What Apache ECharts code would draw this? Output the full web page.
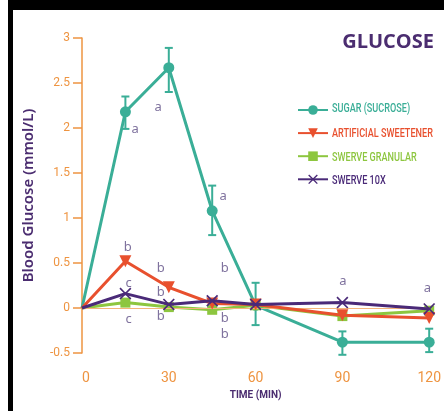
<!DOCTYPE html>
<html>
<head>
<meta charset="utf-8">
<script src="https://cdn.jsdelivr.net/npm/echarts@6/dist/echarts.min.js"></script>
<style>
  html, body { margin: 0; padding: 0; background: #fff; }
  #glucose { width: 444px; height: 411px; }
</style>
</head>
<body>
<div id="glucose"></div>
<script>
// time points (min)
var times = [0, 15, 30, 45, 60, 90, 120];

var seriesNames = ["SUGAR (SUCROSE)", "ARTIFICIAL SWEETENER", "SWERVE GRANULAR", "SWERVE 10X"];
var sugar = [0, 2.18, 2.67, 1.08, 0.03, -0.38, -0.38];
var artificial = [0, 0.52, 0.23, 0.05, 0.04, -0.08, -0.11];
var granular = [0, 0.06, 0.01, -0.02, 0.03, -0.09, -0.03];
var swerve10x = [0, 0.16, 0.04, 0.08, 0.04, 0.06, -0.01];

// error bars for sugar (low, high)
var sugarErrTimes = [15, 30, 45, 60, 90, 120];
var sugarErrLow = [1.99, 2.40, 0.81, -0.19, -0.52, -0.49];
var sugarErrHigh = [2.35, 2.89, 1.36, 0.28, -0.26, -0.23];

// significance letters [time, value, letter]
var letters = [
  [18.4, 1.99, "a"], [26.3, 2.23, "a"], [48.8, 1.24, "a"],
  [15.8, 0.68, "b"], [27.2, 0.44, "b"], [49.3, 0.44, "b"],
  [16.1, 0.28, "c"], [27.2, 0.18, "b"],
  [16.1, -0.12, "c"], [27.2, -0.09, "b"], [49.3, -0.11, "b"], [49.3, -0.29, "b"],
  [90.2, 0.30, "a"], [119.4, 0.22, "a"],
  [90.2, -0.62, "b"], [119.4, -0.62, "b"]
];

var colors = ["#3aae97", "#e8502e", "#8dc63f", "#4a2a78"];
var orange = "#ee9441";
var purple = "#4b2d70";
var xPath = "path://M1,0 L5,4 L9,0 L10,1 L6,5 L10,9 L9,10 L5,6 L1,10 L0,9 L4,5 L0,1 Z";

// no marker at the origin point
function pairs(vals) {
  return times.map(function (t, i) {
    return i === 0 ? { value: [t, vals[i]], symbol: "none" } : [t, vals[i]];
  });
}

// legend text is narrow in the original, squeeze it
var legendRows = [109, 134, 158, 181];
var legendText = seriesNames.map(function (n, i) {
  return {
    type: "text", x: 332, y: legendRows[i], scaleX: 0.7,
    style: { text: n, fill: colors[i], font: "500 13px Roboto", verticalAlign: "middle" }
  };
});

var myChart = echarts.init(document.getElementById("glucose"));
var option = {
  backgroundColor: "#fff",
  animation: false,
  title: {
    text: "GLUCOSE",
    right: 5,
    top: 27,
    textStyle: { color: purple, fontSize: 20, fontWeight: "bold", fontFamily: "Open Sans" }
  },
  graphic: [
    { type: "rect", shape: { x: 8, y: 0, width: 436, height: 10 }, style: { fill: "#000" } },
    { type: "rect", shape: { x: 8, y: 0, width: 5, height: 411 }, style: { fill: "#000" } }
  ].concat(legendText),
  legend: {
    orient: "vertical",
    left: 292,
    top: 99,
    itemWidth: 30,
    itemHeight: 12,
    itemGap: 12.3,
    formatter: function () { return ""; },
    data: seriesNames
  },
  grid: { left: 82, right: 10, top: 38, bottom: 58 },
  xAxis: {
    type: "value",
    min: 0,
    max: 120,
    interval: 30,
    name: "TIME (MIN)",
    nameLocation: "middle",
    nameGap: 37,
    nameTextStyle: { color: purple, fontFamily: "Roboto", fontSize: 10, fontWeight: "bold" },
    axisLine: { onZero: false, show: false },
    axisTick: { show: false },
    splitLine: { show: false },
    axisLabel: { color: orange, fontFamily: "Roboto", fontSize: 14, margin: 18, alignMinLabel: "left" }
  },
  yAxis: {
    type: "value",
    min: -0.5,
    max: 3,
    interval: 0.5,
    name: "Blood Glucose (mmol/L)",
    nameLocation: "middle",
    nameGap: 46,
    nameTextStyle: { color: purple, fontFamily: "Noto Sans", fontSize: 15, fontWeight: 600 },
    axisLine: { show: true, lineStyle: { color: orange, width: 1.5 } },
    axisTick: { show: true, length: 9, lineStyle: { color: orange, width: 1.5 } },
    splitLine: { show: false },
    axisLabel: { color: orange, fontFamily: "Roboto", fontSize: 12, margin: 12 }
  },
  series: [
    {
      name: seriesNames[0], type: "line", data: pairs(sugar), z: 3,
      symbol: "circle", symbolSize: 11,
      lineStyle: { width: 3, color: colors[0] }, itemStyle: { color: colors[0] },
      markLine: {
        silent: true, symbol: "none", label: { show: false },
        lineStyle: { color: "#f5b47a", width: 1, type: "solid" },
        data: [{ yAxis: 0 }]
      }
    },
    {
      name: "sugarErr", type: "custom", z: 3,
      data: sugarErrTimes.map(function (t, i) { return [t, sugarErrLow[i], sugarErrHigh[i]]; }),
      renderItem: function (params, api) {
        var lo = api.coord([api.value(0), api.value(1)]);
        var hi = api.coord([api.value(0), api.value(2)]);
        var w = 4;
        var st = { stroke: colors[0], lineWidth: 2 };
        return {
          type: "group",
          children: [
            { type: "line", shape: { x1: lo[0], y1: lo[1], x2: hi[0], y2: hi[1] }, style: st },
            { type: "line", shape: { x1: lo[0] - w, y1: lo[1], x2: lo[0] + w, y2: lo[1] }, style: st },
            { type: "line", shape: { x1: hi[0] - w, y1: hi[1], x2: hi[0] + w, y2: hi[1] }, style: st }
          ]
        };
      }
    },
    {
      name: seriesNames[1], type: "line", data: pairs(artificial), z: 5,
      symbol: "triangle", symbolRotate: 180, symbolSize: 12,
      lineStyle: { width: 3, color: colors[1] }, itemStyle: { color: colors[1] }
    },
    {
      name: seriesNames[2], type: "line", data: pairs(granular), z: 4,
      symbol: "rect", symbolSize: 10,
      lineStyle: { width: 3, color: colors[2] }, itemStyle: { color: colors[2] }
    },
    {
      name: seriesNames[3], type: "line", data: pairs(swerve10x), z: 6,
      symbol: xPath, symbolSize: 12,
      lineStyle: { width: 3, color: colors[3] }, itemStyle: { color: colors[3] }
    },
    {
      name: "letters", type: "scatter", z: 7, symbolSize: 0,
      data: letters,
      label: {
        show: true, position: "inside",
        formatter: function (p) { return p.data[2]; },
        color: "#5e4e84", fontSize: 13, fontFamily: "Noto Sans"
      }
    }
  ]
};
option && myChart.setOption(option);
</script>
</body>
</html>
